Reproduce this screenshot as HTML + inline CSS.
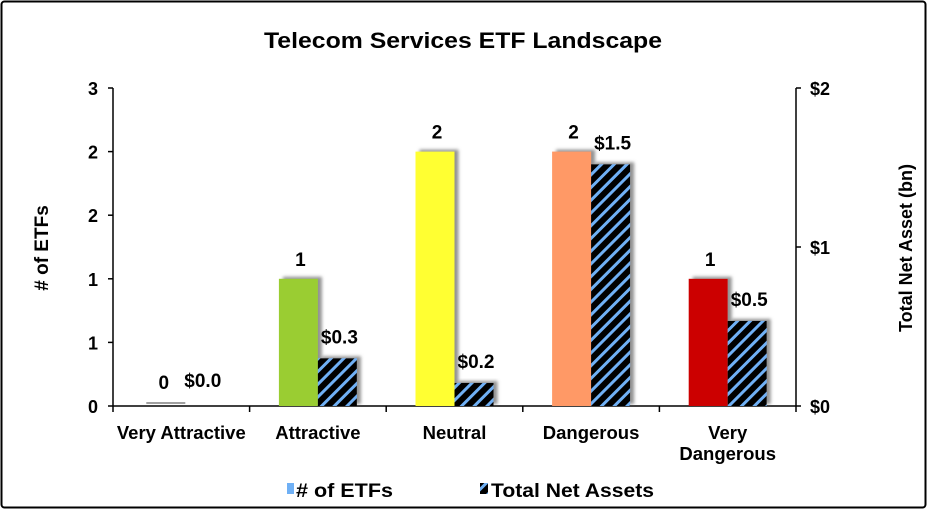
<!DOCTYPE html>
<html><head><meta charset="utf-8"><style>
body{margin:0;background:#fff}
svg text{font-family:"Liberation Sans",Arial,sans-serif;font-weight:bold;fill:#000}
</style></head><body>
<svg width="927" height="510" viewBox="0 0 927 510" xmlns="http://www.w3.org/2000/svg">
<defs>
<pattern id="hatch" patternUnits="userSpaceOnUse" width="9" height="9" patternTransform="rotate(45)">
<rect width="9" height="9" fill="#000"/><rect x="0" y="0" width="3" height="9" fill="#6fb0f5"/>
</pattern>
<filter id="sh" x="-20%" y="-20%" width="160%" height="140%"><feDropShadow dx="4" dy="-2" stdDeviation="1.5" flood-color="#777" flood-opacity="0.8"/></filter>
</defs>
<rect x="1.5" y="1.5" width="924" height="506" rx="3" fill="#fff" stroke="#000" stroke-width="2"/>
<text x="463" y="48" font-size="22" text-anchor="middle" textLength="398" lengthAdjust="spacingAndGlyphs">Telecom Services ETF Landscape</text>
<g id="axes"></g>
<g id="bars"></g>
<text transform="translate(48,248) rotate(-90)" font-size="19" text-anchor="middle">#  of ETFs</text>
<text transform="translate(912,248) rotate(-90)" font-size="18" text-anchor="middle">Total Net Asset (bn)</text>
<rect x="287" y="483" width="7" height="11" fill="#6fb0f5"/>
<text x="296" y="497" font-size="19" textLength="97" lengthAdjust="spacingAndGlyphs">#  of ETFs</text>
<rect x="480" y="483" width="8" height="11" fill="url(#hatch)"/>
<text x="491" y="497" font-size="19" textLength="163" lengthAdjust="spacingAndGlyphs">Total Net Assets</text>
</svg>
<script>
const categories=["Very Attractive","Attractive","Neutral","Dangerous","Very Dangerous"];
const etfCounts=[0,1,2,2,1];
const netAssets=[0.005,0.30,0.145,1.52,0.535];
const etfLabels=["0","1","2","2","1"];
const assetLabels=["$0.0","$0.3","$0.2","$1.5","$0.5"];
const leftTicks=["0","1","1","2","2","3"];
const leftTickValues=[0,0.5,1,1.5,2,2.5];
const rightTicks=["$0","$1","$2"];
const rightTickValues=[0,1,2];
const colors=["#a0a0a0","#9acd32","#ffff33","#ff9966","#cc0000"];
const NS="http://www.w3.org/2000/svg";
const X0=113,X1=796,Y0=406,Y1=88,LMAX=2.5,RMAX=2;
const cw=(X1-X0)/categories.length;
const yL=v=>Y0-(v/LMAX)*(Y0-Y1);
const yR=v=>Y0-(v/RMAX)*(Y0-Y1);
function mk(t,a,p){const e=document.createElementNS(NS,t);for(const k in a)e.setAttribute(k,a[k]);p.appendChild(e);return e;}
const ax=document.getElementById('axes'),bg=document.getElementById('bars');
let l=mk('line',{x1:X0,y1:Y1,x2:X0,y2:Y0,stroke:'#000','stroke-width':1.5},ax);


l=mk('line',{x1:X1,y1:Y1,x2:X1,y2:Y0,stroke:'#000','stroke-width':1.5},ax);


l=mk('line',{x1:X0,y1:Y0,x2:X1,y2:Y0,stroke:'#000','stroke-width':1.5},ax);


leftTickValues.forEach((v,i)=>{const y=yL(v);
 mk('line',{x1:X0-5,y1:y,x2:X0,y2:y,stroke:'#000','stroke-width':1.5},ax);
 const t=mk('text',{x:X0-15,y:y+7,'font-size':18,'font-weight':'normal','text-anchor':'end'},ax);t.textContent=leftTicks[i];
 
 });
rightTickValues.forEach((v,i)=>{const y=yR(v);
 mk('line',{x1:X1,y1:y,x2:X1+5,y2:y,stroke:'#000','stroke-width':1.5},ax);
 const t=mk('text',{x:X1+14,y:y+7,'font-size':18,'font-weight':'normal'},ax);t.textContent=rightTicks[i];
 
 });
for(let i=0;i<=categories.length;i++){const x=X0+i*cw;mk('line',{x1:x,y1:Y0,x2:x,y2:Y0+6,stroke:'#000','stroke-width':1.5},ax);}
const bw=39;
categories.forEach((c,i)=>{
 const cx=X0+cw*(i+0.5);
 const parts=c==="Very Dangerous"?["Very","Dangerous"]:[c];
 parts.forEach((p,j)=>{const t=mk('text',{x:cx,y:439+j*21,'font-size':18.5,'text-anchor':'middle'},ax);t.textContent=p;
  
  });
 const ye=yL(etfCounts[i]),yr=yR(netAssets[i]);
 let r;
 if(etfCounts[i]>0){r=mk('rect',{x:cx-bw,y:ye,width:bw,height:Y0-ye,fill:colors[i],filter:'url(#sh)'},bg);}
 else{r=mk('rect',{x:cx-bw+4,y:Y0-4,width:bw,height:2,fill:'#a0a0a0'},bg);}
 
 
 if(netAssets[i]>0.02){r=mk('rect',{x:cx,y:yr,width:bw,height:Y0-yr,fill:'url(#hatch)',filter:'url(#sh)'},bg);
 
 }
 let t=mk('text',{x:cx-bw/2+2,y:Math.min(ye,Y0-4)-13,'font-size':19,'text-anchor':'middle'},bg);t.textContent=etfLabels[i];
 
 
 t=mk('text',{x:cx+bw/2+2,y:Math.min(yr,Y0-4)-15,'font-size':19,'text-anchor':'middle'},bg);t.textContent=assetLabels[i];
 
 
});
</script>
</body></html>
